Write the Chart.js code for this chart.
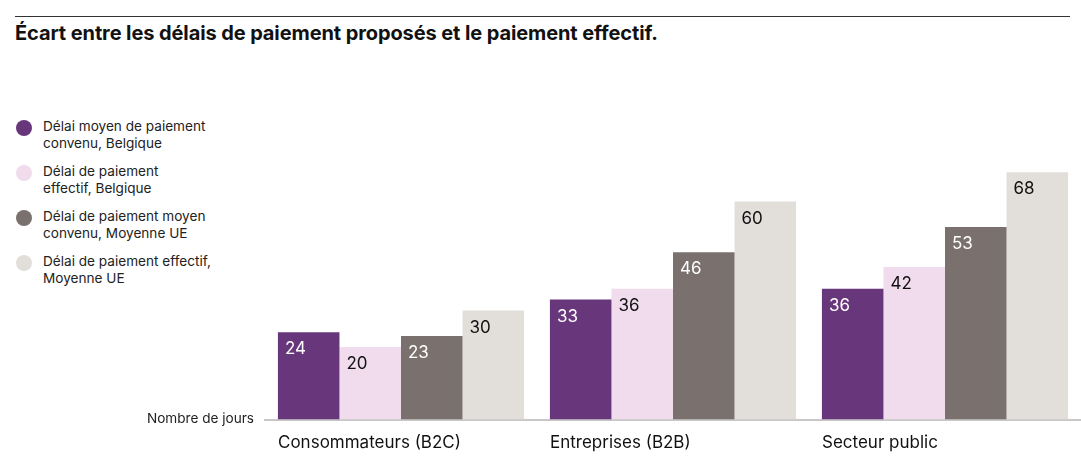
<!DOCTYPE html>
<html>
<head>
<meta charset="utf-8">
<script src="https://cdn.jsdelivr.net/npm/chart.js@4.4.0/dist/chart.umd.min.js"></script>
<style>
  body { margin: 0; background: #fff; font-family: Inter, "Noto Sans", sans-serif; }
  #wrap { position: relative; width: 1081px; height: 475px; overflow: hidden; }
  #rule { position: absolute; left: 15px; top: 16px; width: 1055px; height: 1px; background: #333; }
  #title { position: absolute; left: 15px; top: 21px; font-size: 20px; font-weight: 700; color: #111; letter-spacing: -0.1px; }
  #legend { position: absolute; left: 16px; top: 118px; }
  .item { position: relative; padding-left: 27px; font-size: 13.6px; line-height: 17px; color: #222; margin-bottom: 11px; }
  .dot { position: absolute; left: 0; top: 2px; width: 16px; height: 16px; border-radius: 50%; }
  canvas { position: absolute; left: 0; top: 0; }
</style>
</head>
<body>
<div id="wrap">
  <div id="rule"></div>
  <div id="title">Écart entre les délais de paiement proposés et le paiement effectif.</div>
  <div id="legend"></div>
  <canvas id="chart" width="1081" height="475"></canvas>
</div>
<script>
var categories = ["Consommateurs (B2C)", "Entreprises (B2B)", "Secteur public"];
var seriesNames = [
  ["Délai moyen de paiement", "convenu, Belgique"],
  ["Délai de paiement", "effectif, Belgique"],
  ["Délai de paiement moyen", "convenu, Moyenne UE"],
  ["Délai de paiement effectif,", "Moyenne UE"]
];
var agreedBelgium = [24, 33, 36];
var actualBelgium = [20, 36, 42];
var agreedEU = [23, 46, 53];
var actualEU = [30, 60, 68];
var colors = ["#68367b", "#f0dcec", "#7a716e", "#e2dfdb"];
var labelColors = ["#ffffff", "#111111", "#ffffff", "#111111"];
var axisLabel = "Nombre de jours";

var legend = document.getElementById("legend");
seriesNames.forEach(function(lines, i) {
  var div = document.createElement("div");
  div.className = "item";
  div.innerHTML = '<span class="dot" style="background:' + colors[i] + '"></span>' + lines.join("<br>");
  legend.appendChild(div);
});

var valueLabels = {
  id: "valueLabels",
  afterDatasetsDraw: function(chart) {
    var ctx = chart.ctx;
    ctx.save();
    ctx.font = "17px Inter, 'Noto Sans', sans-serif";
    ctx.textAlign = "left";
    ctx.textBaseline = "middle";
    chart.data.datasets.forEach(function(ds, i) {
      var meta = chart.getDatasetMeta(i);
      ctx.fillStyle = labelColors[i];
      meta.data.forEach(function(bar, j) {
        ctx.fillText(ds.data[j], bar.x - bar.width / 2 + 7, bar.y + 17);
      });
    });
    // axis caption
    ctx.font = "13.6px Inter, 'Noto Sans', sans-serif";
    ctx.fillStyle = "#222";
    ctx.textAlign = "right";
    ctx.fillText(axisLabel, chart.chartArea.left - 11, chart.chartArea.bottom - 1);
    ctx.restore();
  }
};

var data = [agreedBelgium, actualBelgium, agreedEU, actualEU];
new Chart(document.getElementById("chart"), {
  type: "bar",
  data: {
    labels: categories,
    datasets: data.map(function(d, i) {
      return {
        label: seriesNames[i].join(" "),
        data: d,
        backgroundColor: colors[i],
        borderWidth: 0,
        barPercentage: 1,
        categoryPercentage: 0.905
      };
    })
  },
  options: {
    responsive: false,
    animation: false,
    layout: { padding: { left: 265, right: 0, top: 56, bottom: 9 } },
    plugins: { legend: { display: false }, tooltip: { enabled: false } },
    scales: {
      y: { display: false, min: 0, max: 100 },
      x: {
        grid: { display: false, drawTicks: false },
        border: { display: true, color: "#c8c8c8", width: 2 },
        ticks: {
          align: "start",
          labelOffset: -123,
          padding: 13,
          color: "#111",
          font: { family: "Inter, 'Noto Sans', sans-serif", size: 17 }
        }
      }
    }
  },
  plugins: [valueLabels]
});
</script>
</body>
</html>
